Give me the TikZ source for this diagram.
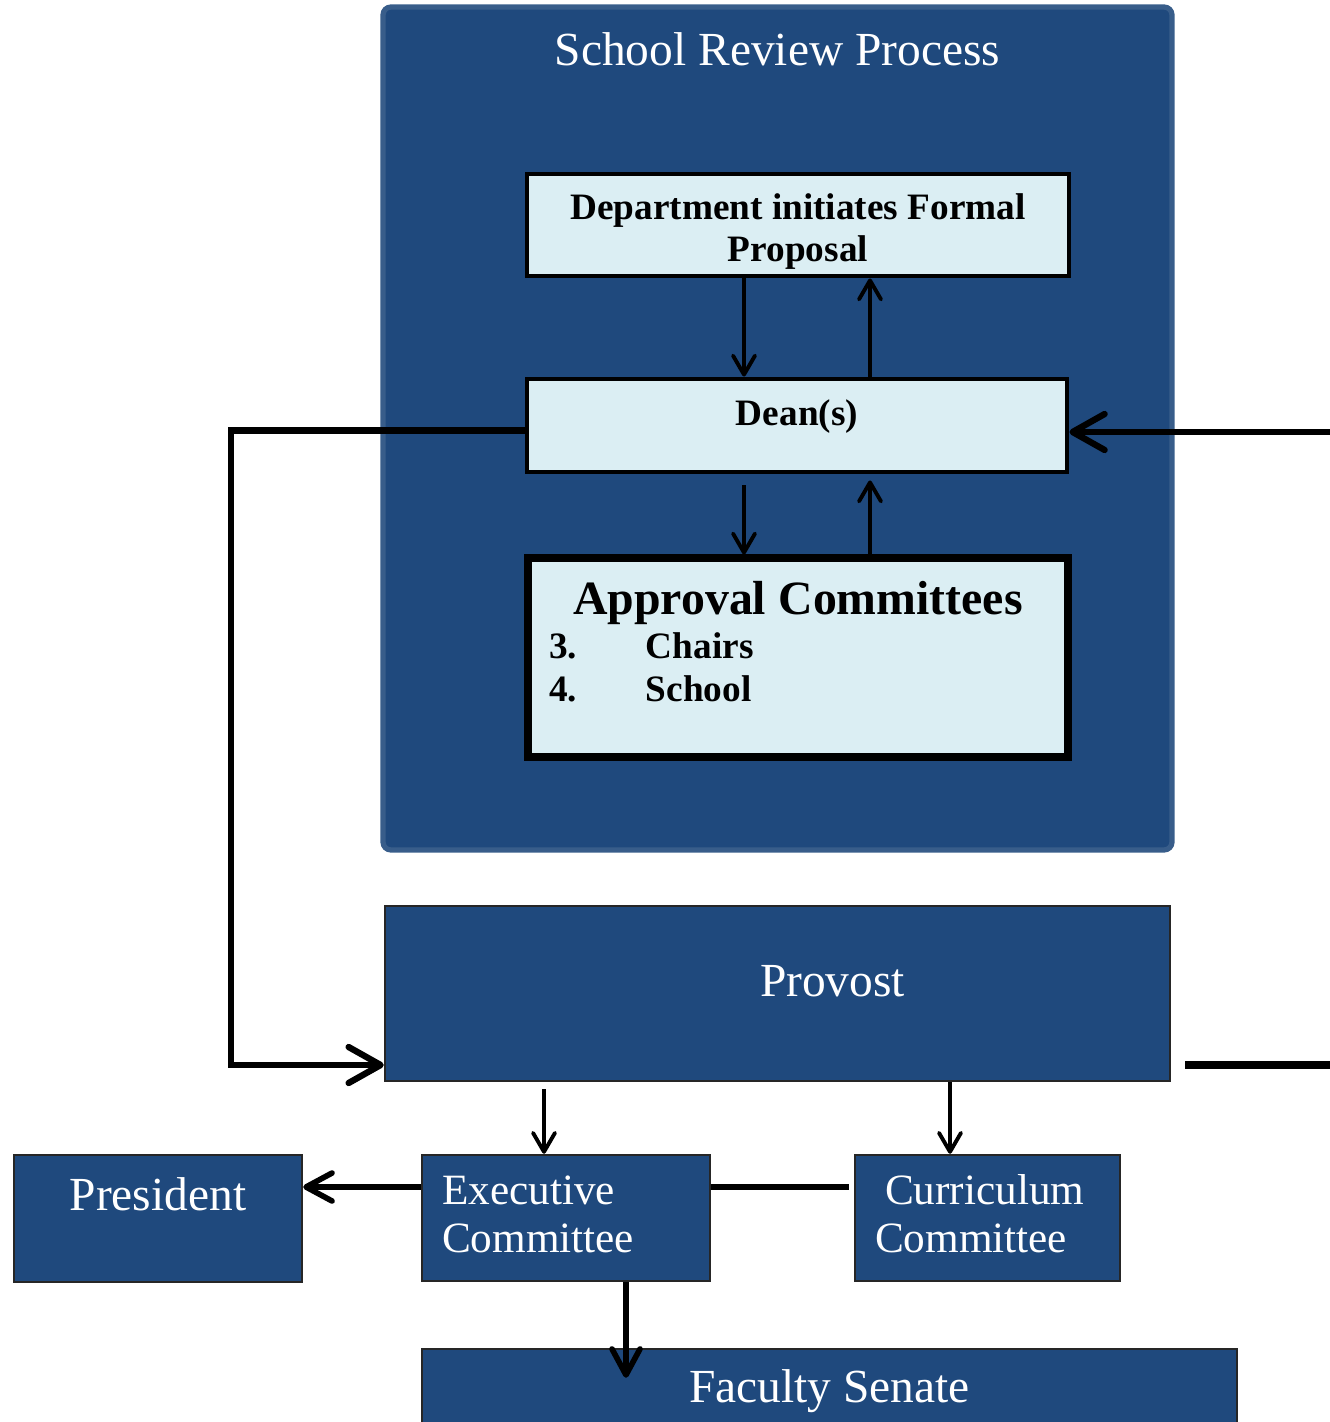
\documentclass[tikz,border=0pt]{standalone}
\usepackage{fontspec}
\setmainfont{Liberation Serif}
\usetikzlibrary{arrows.meta}
\definecolor{navyFill}{HTML}{1F497D}
\definecolor{paleFill}{HTML}{DBEEF3}
\definecolor{navyEdge}{HTML}{385D8A}

\begin{document}
\begin{tikzpicture}[x=0.1mm, y=-0.1mm,
    panel/.style={rectangle, draw=navyEdge, line width=1.5pt, fill=navyFill, rounded corners=0.8mm, inner sep=0pt, anchor=base, text=white, font=\fontsize{13.5}{16}\selectfont},
    pale/.style={rectangle, draw=black, line width=1.4pt, fill=paleFill, inner sep=0pt, anchor=base, align=center, font=\fontsize{10.6}{12}\selectfont\bfseries},
    office/.style={rectangle, draw=black!85, line width=0.7pt, fill=navyFill, inner sep=0pt, anchor=base, text=white, font=\fontsize{13.5}{14}\selectfont},
    flow/.style={-{Straight Barb[length=1.9mm, width=2.2mm, round]}, line width=1.1pt},
    midflow/.style={-{Straight Barb[length=2.6mm, width=2.8mm, round]}, line width=1.6pt},
    bigflow/.style={-{Straight Barb[length=3.2mm, width=3.6mm, round]}, line width=1.8pt},
    link/.style={line width=1.8pt}
]
\useasboundingbox (0,0) rectangle (1330,1422);
\clip (0,0) rectangle (1330,1422);
\node[panel, minimum width=78.9mm, text height=5.9mm, text depth=78.4mm] (school) at (777.5,66) {School Review Process};
\node[pale, minimum width=54.2mm, text height=8.8mm, text depth=1.4mm] (dept) at (798,262) {Department initiates Formal\\Proposal};
\node[pale, minimum width=54mm, text height=4.6mm, text depth=4.7mm] (dean) at (797,425) {Dean(s)};
\node[pale, line width=2pt, text width=49.8mm, inner xsep=2.1mm, align=left, text height=5.6mm, text depth=14.3mm] (approval) at (798,614) {{\centering\fontsize{13.6}{15}\selectfont Approval Committees\par}\fontsize{10.6}{12.8}\selectfont\makebox[9.7mm][l]{3.}Chairs\\\makebox[9.7mm][l]{4.}School};
\node[office, minimum width=78.5mm, text height=9mm, text depth=8.5mm] (provost) at (777.5,996) {\hspace*{11mm}Provost};
\node[office, text width=24.8mm, inner xsep=2mm, align=left, text height=4.9mm, text depth=7.7mm, font=\fontsize{12.3}{13.9}\selectfont] (exec) at (566,1204) {Executive\\Committee};
\node[office, text width=22.5mm, inner xsep=2mm, align=left, text height=4.9mm, text depth=7.7mm, font=\fontsize{12.3}{13.9}\selectfont] (curric) at (987.5,1204) {\hspace*{1mm}Curriculum\\Committee};
\node[office, minimum width=28.8mm, text height=5.5mm, text depth=7.2mm] (pres) at (158,1210) {President};
\node[office, minimum width=81.5mm, text height=5.3mm, text depth=4mm] (senate) at (829.5,1402) {Faculty Senate};
\coordinate (colA) at (744,0);
\coordinate (colB) at (870,0);
\coordinate (colC) at (544,0);
\coordinate (colD) at (950,0);
\coordinate (colE) at (626,0);
\coordinate (bend) at (231,1065);
\coordinate (rowE) at (0,1187);
\coordinate (feedIn) at (1345,432);
\coordinate (feedOut) at (1345,1065);
\draw[flow] (dept.south -| colA) -- (dean.north -| colA);
\draw[flow] (dean.north -| colB) -- (dept.south -| colB);
\draw[flow, shorten <=1.1mm] (dean.south -| colA) -- (approval.north -| colA);
\draw[flow, shorten >=0.6mm] (approval.north -| colB) -- (dean.south -| colB);
\draw[bigflow] ([yshift=-0.5mm]dean.west) -| (bend) -- (bend -| provost.west);
\draw[bigflow] (feedIn) -- (dean.east |- feedIn);
\draw[link, line width=2pt, shorten <=1.4mm] (provost.east |- bend) -- (feedOut);
\draw[flow, shorten <=0.7mm] (provost.south -| colC) -- (exec.north -| colC);
\draw[flow] (provost.south -| colD) -- (curric.north -| colD);
\draw[midflow] (exec.west |- rowE) -- (pres.east |- rowE);
\draw[link, shorten >=0.5mm] (exec.east |- rowE) -- (curric.west |- rowE);
\draw[midflow, shorten >=-3mm] (exec.south -| colE) -- (senate.north -| colE);
\end{tikzpicture}
\end{document}
